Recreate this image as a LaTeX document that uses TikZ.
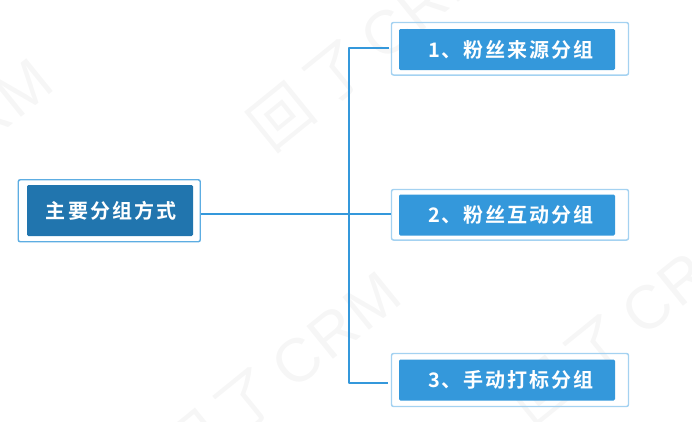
\documentclass[tikz,border=0pt]{standalone}
\usepackage{fontspec}
\setmainfont{Liberation Sans}[LetterSpace=4]
\newfontfamily\cjk{Noto Sans CJK SC}
\newfontfamily\cjkwide{Noto Sans CJK SC}[BoldFont={Noto Sans CJK SC Bold},LetterSpace=10]
\definecolor{mainblue}{HTML}{2175AE}
\definecolor{subblue}{HTML}{3498DB}
\definecolor{mainedge}{HTML}{5DADE2}
\definecolor{subedge}{HTML}{A4D2F1}
\definecolor{wmgray}{HTML}{F6F6F6}
\tikzset{
	mainbox/.style={fill=mainblue,rounded corners=1pt,minimum width=124.5pt,minimum height=38.25pt,inner sep=0pt,text=white,font=\cjkwide\bfseries\fontsize{15}{18}\selectfont},
	subbox/.style={fill=subblue,rounded corners=1pt,minimum width=162pt,minimum height=30.75pt,inner sep=0pt,text=white,font=\cjkwide\bfseries\fontsize{15}{18}\selectfont},
	mainframe/.style={draw=mainedge,line width=1.1pt,rounded corners=1.5pt,minimum width=136.5pt,minimum height=46.5pt,inner sep=0pt},
	subframe/.style={draw=subedge,line width=1.1pt,rounded corners=1.5pt,minimum width=177.75pt,inner sep=0pt},
	link/.style={draw=subblue,line width=1.1pt},
	wmark/.style={text=wmgray,rotate=39,anchor=west,inner sep=0pt,font=\fontsize{46}{46}\selectfont}
}
\begin{document}
\begin{tikzpicture}[x=.75pt,y=-.75pt,line join=round]
	\useasboundingbox (0,0) rectangle (692,421);
	% watermark
	\begin{scope}
		\clip (0,0) rectangle (692,421);
		\foreach \i in {(257,137),(168,465),(518,412),(-180,252)}
			\node[wmark] at \i {{\cjk 回\,了}\,CRM};
	\end{scope}
	% frames
	\node[mainframe] (zhuyaoF) at (109.25,210.75) {};
	\node[subframe,minimum height=39.4pt] (laiyuanF) at (510,48.75) {};
	\node[subframe,minimum height=37.9pt] (hudongF) at (510,214.75) {};
	\node[subframe,minimum height=39.75pt] (dabiaoF) at (510,380) {};
	% boxes
	\node[mainbox] (zhuyao) at (110,210.5) {\hspace{1.5pt}主要分组方式};
	\node[subbox] (laiyuan) at (507,49.5) {\hspace{6pt}1、粉丝来源分组};
	\node[subbox] (hudong) at (507,215) {\hspace{6pt}2、粉丝互动分组};
	\node[subbox] (dabiao) at (507,380) {\hspace{6pt}3、手动打标分组};
	% links
	\coordinate (zhuyaoR) at (zhuyaoF.east|-0,214);
	\coordinate (laiyuanL) at (389,48);
	\coordinate (hudongL) at (hudongF.west|-0,214);
	\coordinate (dabiaoL) at (388,383);
	\coordinate (trunk) at (349,214);
	\draw[link] (zhuyaoR)--(hudongL);
	\draw[link] (laiyuanL)-|(trunk)|-(dabiaoL);
\end{tikzpicture}
\end{document}
